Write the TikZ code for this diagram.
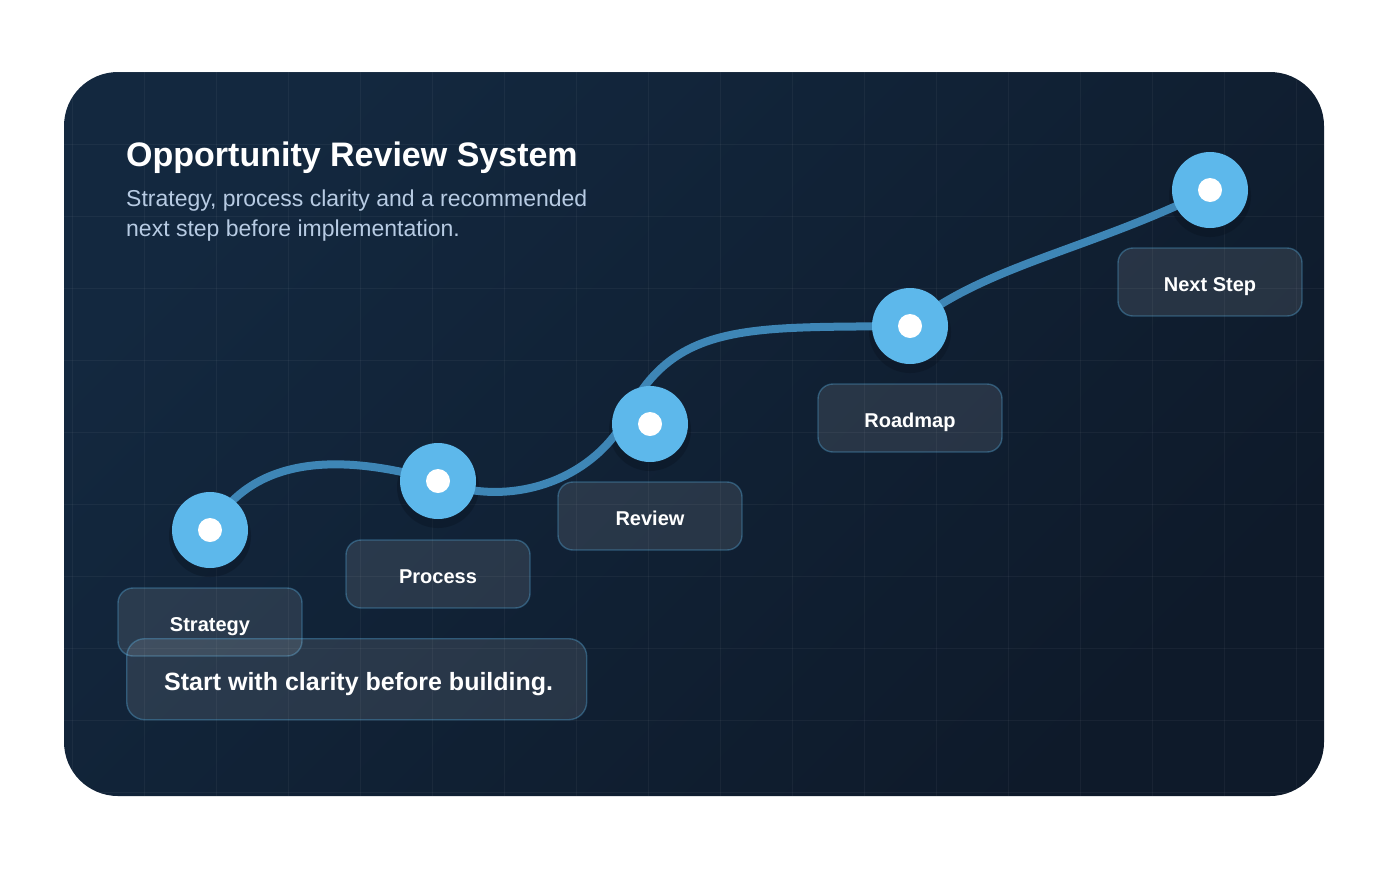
\documentclass[tikz,border=0pt]{standalone}
\usepackage{fontspec}
\setmainfont{Liberation Sans}
\pgfdeclarelayer{bg}
\pgfdeclarelayer{mid}
\pgfsetlayers{bg,mid,main}
\definecolor{paneltl}{HTML}{13283F}
\definecolor{panelbr}{HTML}{0E1A2A}
\definecolor{dotblue}{HTML}{5DB8EB}
\definecolor{flowblue}{HTML}{3E86B6}
\definecolor{subtxt}{HTML}{B7CBE3}
\definecolor{boxedge}{HTML}{5DB8EB}
\definecolor{shadowc}{HTML}{08111E}
\tikzset{
  stepdot/.style={circle, fill=dotblue, minimum size=76pt, inner sep=0pt},
  labelbox/.style={rounded corners=15pt, minimum width=184pt, minimum height=68pt,
    fill=white, fill opacity=0.1, draw=boxedge, draw opacity=0.35, line width=1.4pt,
    text opacity=1, text=white, inner sep=0pt, text height=18pt, text depth=0pt,
    font=\fontsize{20}{24}\selectfont\bfseries},
  flow/.style={draw=flowblue, line width=8pt, line cap=round},
  gridline/.style={draw=white, draw opacity=0.045, line width=1pt},
}
\begin{document}
\begin{tikzpicture}[x=1pt,y=-1pt]
\useasboundingbox (0,0) rectangle (1388,868);
% panel
\begin{pgfonlayer}{bg}
\fill[white] (0,0) rectangle (1388,868);
\shade[rounded corners=54pt, top color=paneltl, bottom color=panelbr, shading angle=45]
  (64,72) rectangle (1324,796);
\begin{scope}
  \clip[rounded corners=54pt] (64,72) rectangle (1324,796);
  \foreach \gx in {72,144,...,1296} \path[gridline] (\gx,72) -- (\gx,796);
  \foreach \gy in {72,144,...,792} \path[gridline] (64,\gy) -- (1324,\gy);
\end{scope}
\end{pgfonlayer}
% title
\node[anchor=base west, inner sep=0pt, text=white, font=\fontsize{34}{40}\selectfont\bfseries] (title) at (126,166) {Opportunity Review System};
\node[anchor=base west, inner sep=0pt, text=subtxt, font=\fontsize{23}{30}\selectfont] (sub1) at (126,206.5) {Strategy, process clarity and a recommended};
\node[anchor=base west, inner sep=0pt, text=subtxt, font=\fontsize{23}{30}\selectfont] (sub2) at (126,236.5) {next step before implementation.};
% step circles
\node[stepdot] (n1) at (210,530) {};
\node[stepdot] (n2) at (438,481) {};
\node[stepdot] (n3) at (650,424) {};
\node[stepdot] (n4) at (910,326) {};
\node[stepdot] (n5) at (1210,190) {};
\foreach \n in {n1,n2,n3,n4,n5} \fill[white] (\n.center) circle[radius=12pt];
\coordinate (via3) at ([xshift=-18pt,yshift=18pt]n3.center);
\begin{pgfonlayer}{mid}
\foreach \n in {n1,n2,n3,n4,n5} {
  \fill[shadowc, opacity=0.35] ([yshift=-6pt]\n.center) circle[radius=41pt];
}
\path[flow] (n1.center) .. controls (250,460) and (330,450) .. (n2.center)
  .. controls (510,510) and (600,480) .. (via3)
  .. controls (680,320) and (760,328) .. (n4.center)
  .. controls (985,265) and (1090,250) .. (n5.center);
\end{pgfonlayer}
% labels
\node[labelbox] (l1) at (210,622) {Strategy};
\node[labelbox] (l2) at (438,574) {Process};
\node[labelbox] (l3) at (650,516) {Review};
\node[labelbox] (l4) at (910,418) {Roadmap};
\node[labelbox] (l5) at (1210,282) {Next Step};
% bottom callout
\node[labelbox, minimum width=460pt, minimum height=81pt, anchor=north west, rounded corners=18pt] (callout) at (126,638) {};
\node[anchor=base west, inner sep=0pt, text=white, font=\fontsize{25}{30}\selectfont\bfseries] (callouttxt) at (164,690) {Start with clarity before building.};
\end{tikzpicture}
\end{document}
